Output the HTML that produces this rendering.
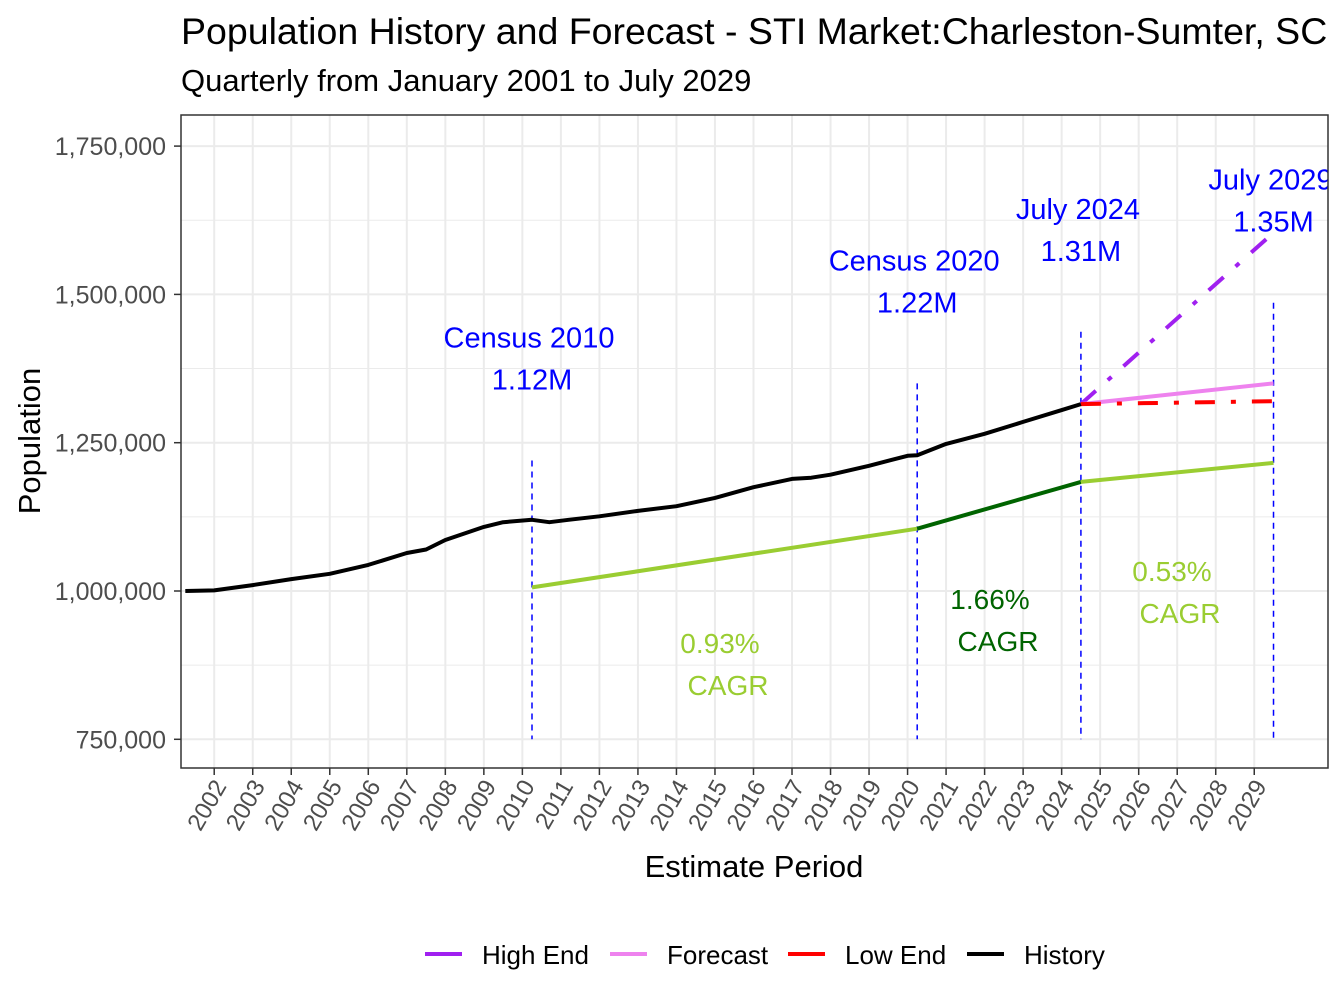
<!DOCTYPE html>
<html><head><meta charset="utf-8">
<style>
html,body{margin:0;padding:0;background:#fff;}
svg{display:block;font-family:"Liberation Sans",Arial,sans-serif;}
</style></head>
<body>
<svg id="chart" width="1344" height="1008" viewBox="0 0 1344 1008">
<defs><clipPath id="panelclip"><rect x="181" y="115" width="1147" height="653"/></clipPath></defs>
<rect x="0" y="0" width="1344" height="1008" fill="#fff"/>
<text x="181" y="44" font-size="37.5" fill="#000">Population History and Forecast - STI Market:Charleston-Sumter, SC</text>
<text x="181" y="91" font-size="31" fill="#000">Quarterly from January 2001 to July 2029</text>
<g id="grid"></g>
<g id="marks" clip-path="url(#panelclip)"></g>
<rect x="181" y="115" width="1147" height="653" fill="none" stroke="#333" stroke-width="1.5"/>
<g id="axes"></g>
<text x="754" y="877" font-size="31" text-anchor="middle" fill="#000">Estimate Period</text>
<text transform="translate(40,441) rotate(-90)" font-size="31" text-anchor="middle" fill="#000">Population</text>
<g id="legend"></g>
</svg>
<script>
const NS="http://www.w3.org/2000/svg";
const historyT=[2001.25,2002.0,2003.0,2004.0,2005.0,2006.0,2007.0,2007.5,2008.0,2009.0,2009.5,2010.25,2010.7,2011.2,2012.0,2013.0,2014.0,2015.0,2016.0,2017.0,2017.5,2018.0,2019.0,2020.0,2020.25,2021.0,2022.0,2023.0,2024.0,2024.5];
const historyV=[1000000,1001000,1010000,1020000,1029000,1044000,1064000,1070000,1086000,1108000,1116000,1120000,1116000,1120000,1126000,1135000,1143000,1157000,1175000,1189000,1191000,1196000,1211000,1228000,1229000,1248000,1265000,1285000,1305000,1315000];
const forecastT=[2024.5,2029.5];
const forecastV=[1315000,1350000];
const lowV=[1315000,1320000];
const highV=[1315000,1604000];
const cagrT=[2010.25,2020.25,2024.5,2029.5];
const cagrV=[1006000,1105000,1184000,1216000];
const yTicks=[750000,1000000,1250000,1500000,1750000];
const yLabels=["750,000","1,000,000","1,250,000","1,500,000","1,750,000"];
const xYears=[2002,2003,2004,2005,2006,2007,2008,2009,2010,2011,2012,2013,2014,2015,2016,2017,2018,2019,2020,2021,2022,2023,2024,2025,2026,2027,2028,2029];
const markerT=[2010.25,2020.25,2024.5,2029.5];
const markerTop=[1220000,1350000,1437000,1486000];
const markerTitle=["Census 2010","Census 2020","July 2024","July 2029"];
const markerValue=["1.12M","1.22M","1.31M","1.35M"];
const cagrLabels=["0.93%","1.66%","0.53%"];

const x=t=>532+(t-2010.25)*38.52;
const y=v=>591-(v-1000000)/250000*148.3;
function el(tag,attrs,parent,text){const e=document.createElementNS(NS,tag);for(const k in attrs)e.setAttribute(k,attrs[k]);if(text!==undefined)e.textContent=text;parent.appendChild(e);return e;}
const grid=document.getElementById('grid'),marks=document.getElementById('marks'),axes=document.getElementById('axes'),legend=document.getElementById('legend');
for(let i=0;i<yTicks.length-1;i++){const v=(yTicks[i]+yTicks[i+1])/2;const g=el('line',{x1:181,x2:1328,y1:y(v),y2:y(v),stroke:'#ebebeb','stroke-width':1},grid);}
yTicks.forEach((v,i)=>{
 const g=el('line',{x1:181,x2:1328,y1:y(v),y2:y(v),stroke:'#ebebeb','stroke-width':2},grid);
 
 
 const tk=el('line',{x1:174,x2:181,y1:y(v),y2:y(v),stroke:'#333','stroke-width':1.5},axes);
 
 
 const tl=el('text',{x:166,y:y(v)+9,'font-size':25,'text-anchor':'end',fill:'#4d4d4d'},axes,yLabels[i]);
 
 
});
xYears.forEach(yr=>{
 const xx=x(yr);
 const g=el('line',{x1:xx,x2:xx,y1:115,y2:768,stroke:'#ebebeb','stroke-width':2},grid);
 
 
 const tk=el('line',{x1:xx,x2:xx,y1:768,y2:775,stroke:'#333','stroke-width':1.5},axes);
 
 
 const tl=el('text',{transform:`translate(${xx+13},${786}) rotate(-60)`,'font-size':24,'text-anchor':'end',fill:'#4d4d4d'},axes,String(yr));
 
 
});
function path(ts,vs,attrs,name){const d=ts.map((t,i)=>(i?'L':'M')+x(t).toFixed(1)+','+y(vs[i]).toFixed(1)).join('');const p=el('path',Object.assign({d:d,fill:'none','stroke-linejoin':'round'},attrs),marks);return p;}
markerT.forEach((t,i)=>{
 const l=el('line',{x1:x(t),x2:x(t),y1:y(markerTop[i]),y2:y(750000),stroke:'#0000ff','stroke-width':1.5,'stroke-dasharray':'6 5'},marks);
 
 
 const a=el('text',{x:x(t)-3,y:y(markerTop[i])-113,'font-size':29,'text-anchor':'middle',fill:'#0000ff'},marks,markerTitle[i]);
 
 
 const b=el('text',{x:x(t),y:y(markerTop[i])-71,'font-size':29,'text-anchor':'middle',fill:'#0000ff'},marks,markerValue[i]);
 
 
});
path(cagrT.slice(0,2),cagrV.slice(0,2),{stroke:'#9acd32','stroke-width':4},'cagr-line-2010-2020');
path(cagrT.slice(1,3),cagrV.slice(1,3),{stroke:'#006400','stroke-width':4},'cagr-line-2020-2024');
path(cagrT.slice(2,4),cagrV.slice(2,4),{stroke:'#9acd32','stroke-width':4},'cagr-line-2024-2029');
path(forecastT,highV,{stroke:'#a020f0','stroke-width':4,'stroke-dasharray':'20 16 5 16'},'high-end-line');
path(forecastT,forecastV,{stroke:'#ee82ee','stroke-width':4},'forecast-line');
path(forecastT,lowV,{stroke:'#ff0000','stroke-width':4,'stroke-dasharray':'20 16 5 16'},'low-end-line');
path(historyT,historyV,{stroke:'#000','stroke-width':4},'history-line');
const cagrColors=['#9acd32','#006400','#9acd32'];
const cagrPos=[[720,653],[990,609],[1172,581]];
cagrLabels.forEach((s,i)=>{
 const a=el('text',{x:cagrPos[i][0],y:cagrPos[i][1],'font-size':28,'text-anchor':'middle',fill:cagrColors[i]},marks,s);
 
 
 const b=el('text',{x:cagrPos[i][0]+8,y:cagrPos[i][1]+42,'font-size':28,'text-anchor':'middle',fill:cagrColors[i]},marks,'CAGR');
 
 
});
const legNames=['High End','Forecast','Low End','History'];
const legColors=['#a020f0','#ee82ee','#ff0000','#000'];
const legX=[425,610,788,967];
legNames.forEach((n,i)=>{
 const k=el('line',{x1:legX[i],x2:legX[i]+37,y1:954,y2:954,stroke:legColors[i],'stroke-width':4},legend);
 
 
 const t=el('text',{x:legX[i]+57,y:964,'font-size':26,fill:'#000'},legend,n);
 
 
});
</script>
</body></html>
